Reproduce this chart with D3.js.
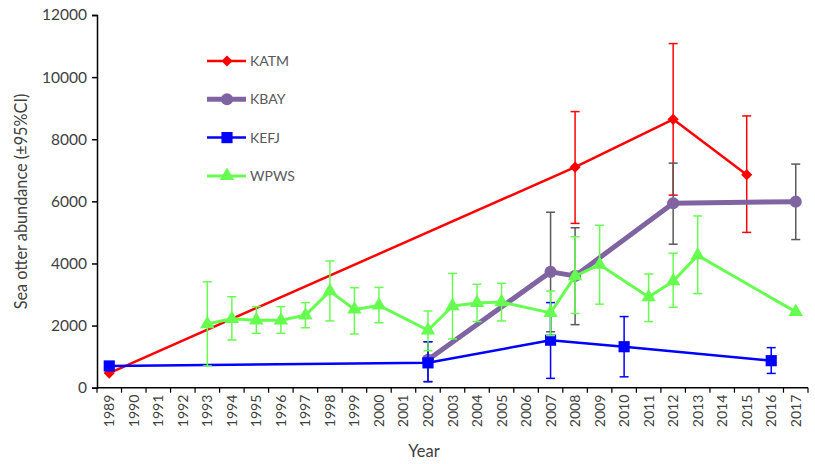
<!DOCTYPE html>
<html>
<head>
<meta charset="utf-8">
<script src="https://cdn.jsdelivr.net/npm/d3@7"></script>
<style>
  body { margin: 0; background: #fff; }
  text { font-family: Lato, "Open Sans", sans-serif; }
</style>
</head>
<body>
<div id="chart"></div>
<script>
// x categories
const years = d3.range(1989, 2018).map(String);
const yTicks = [0, 2000, 4000, 6000, 8000, 10000, 12000];

// KATM
const katmYears = ["1989", "2008", "2012", "2015"];
const katmValues = [470, 7100, 8640, 6860];
const katmLow = [null, 5290, 6200, 5000];
const katmHigh = [null, 8890, 11080, 8750];

// KBAY
const kbayYears = ["2002", "2007", "2008", "2012", "2017"];
const kbayValues = [900, 3730, 3600, 5940, 5990];
const kbayLow = [200, 1800, 2030, 4620, 4770];
const kbayHigh = [1480, 5650, 5150, 7230, 7200];

// KEFJ
const kefjYears = ["1989", "2002", "2007", "2010", "2016"];
const kefjValues = [700, 800, 1530, 1320, 870];
const kefjLow = [null, 190, 300, 350, 460];
const kefjHigh = [null, 1480, 2740, 2290, 1290];

// WPWS
const wpwsYears = ["1993", "1994", "1995", "1996", "1997", "1998", "1999", "2000", "2002", "2003", "2004", "2005", "2007", "2008", "2009", "2011", "2012", "2013", "2017"];
const wpwsValues = [2050, 2220, 2170, 2170, 2330, 3110, 2520, 2650, 1850, 2630, 2730, 2760, 2410, 3590, 3960, 2920, 3430, 4260, 2440];
const wpwsLow = [700, 1540, 1750, 1750, 1930, 2150, 1730, 2090, 1190, 1570, 2130, 2150, 1680, 2390, 2690, 2130, 2590, 3030, null];
const wpwsHigh = [3410, 2930, 2610, 2610, 2740, 4080, 3220, 3230, 2470, 3680, 3330, 3360, 3110, 4860, 5230, 3660, 4330, 5530, null];

const series = [
  { name: "KATM", years: katmYears, values: katmValues, low: katmLow, high: katmHigh,
    color: "#FF0000", errColor: "#FF0000", width: 2.5, symbol: d3.symbolSquare, size: 62, rot: 45 },
  { name: "KBAY", years: kbayYears, values: kbayValues, low: kbayLow, high: kbayHigh,
    color: "#8064A2", errColor: "#595959", width: 5, symbol: d3.symbolCircle, size: 115, rot: 0 },
  { name: "KEFJ", years: kefjYears, values: kefjValues, low: kefjLow, high: kefjHigh,
    color: "#0000FF", errColor: "#0000FF", width: 2.5, symbol: d3.symbolSquare, size: 125, rot: 0 },
  { name: "WPWS", years: wpwsYears, values: wpwsValues, low: wpwsLow, high: wpwsHigh,
    color: "#66FF4F", errColor: "#66FF4F", width: 3, symbol: d3.symbolTriangle, size: 90, rot: 0 }
];

const W = 815, H = 464;
const svg = d3.select("#chart").append("svg")
  .attr("width", W).attr("height", H);

const x = d3.scaleBand().domain(years).range([97, 808]).padding(0);
const y = d3.scaleLinear().domain([0, 12000]).range([387.7, 15]);
const cx = d => x(d) + x.bandwidth() / 2;

// y axis
const yAxis = svg.append("g")
  .attr("transform", "translate(97,0)")
  .call(d3.axisLeft(y).tickValues(yTicks).tickSize(5).tickPadding(5).tickFormat(d3.format("d")));
yAxis.select(".domain").attr("stroke", "#000").attr("stroke-width", 1.5);
yAxis.selectAll(".tick line").attr("stroke", "#000").attr("stroke-width", 1.5);
yAxis.selectAll(".tick text").attr("fill", "#404040").style("font-size", "15.5px");

// x axis, ticks between categories
const xAxis = svg.append("g").attr("transform", "translate(0,387.7)");
xAxis.append("line").attr("x1", 97).attr("x2", 808).attr("stroke", "#000").attr("stroke-width", 1.5);
xAxis.selectAll(".xt").data(years.concat(["end"])).join("line")
  .attr("x1", d => d === "end" ? 808 : x(d))
  .attr("x2", d => d === "end" ? 808 : x(d))
  .attr("y1", 0).attr("y2", 5).attr("stroke", "#000").attr("stroke-width", 1.2);
xAxis.selectAll(".xl").data(years).join("text")
  .attr("transform", d => `translate(${cx(d) + 5},${7}) rotate(-90)`)
  .attr("text-anchor", "end")
  .attr("fill", "#404040")
  .style("font-size", "14px")
  .text(d => d);

// axis titles
svg.append("text")
  .attr("transform", "translate(27,201.5) rotate(-90)")
  .attr("text-anchor", "middle")
  .attr("fill", "#404040")
  .style("font-size", "16.3px")
  .text("Sea otter abundance (±95%CI)");
svg.append("text")
  .attr("x", 424).attr("y", 457)
  .attr("text-anchor", "middle")
  .attr("fill", "#404040")
  .style("font-size", "16.5px")
  .text("Year");

// series
const line = d3.line().x(d => cx(d.year)).y(d => y(d.value));

series.forEach(s => {
  const pts = s.years.map((yr, i) => ({ year: yr, value: s.values[i], low: s.low[i], high: s.high[i] }));
  const g = svg.append("g");

  const eb = g.selectAll(".eb").data(pts.filter(d => d.low != null)).join("g")
    .attr("stroke", s.errColor).attr("stroke-width", 1.5);
  eb.append("line")
    .attr("x1", d => cx(d.year)).attr("x2", d => cx(d.year))
    .attr("y1", d => y(d.low)).attr("y2", d => y(d.high));
  eb.append("line")
    .attr("x1", d => cx(d.year) - 4.5).attr("x2", d => cx(d.year) + 4.5)
    .attr("y1", d => y(d.low)).attr("y2", d => y(d.low));
  eb.append("line")
    .attr("x1", d => cx(d.year) - 4.5).attr("x2", d => cx(d.year) + 4.5)
    .attr("y1", d => y(d.high)).attr("y2", d => y(d.high));

  g.append("path").datum(pts)
    .attr("fill", "none")
    .attr("stroke", s.color)
    .attr("stroke-width", s.width)
    .attr("stroke-linejoin", "round")
    .attr("d", line);

  g.selectAll(".m").data(pts).join("path")
    .attr("transform", d => `translate(${cx(d.year)},${y(d.value)}) rotate(${s.rot})`)
    .attr("d", d3.symbol().type(s.symbol).size(s.size))
    .attr("fill", s.color);
});

// legend
const legend = svg.append("g");
series.forEach((s, i) => {
  const ly = 61 + i * 38.3;
  legend.append("line")
    .attr("x1", 207).attr("x2", 246).attr("y1", ly).attr("y2", ly)
    .attr("stroke", s.color).attr("stroke-width", s.width);
  legend.append("path")
    .attr("transform", `translate(227,${ly}) rotate(${s.rot})`)
    .attr("d", d3.symbol().type(s.symbol).size(s.size))
    .attr("fill", s.color);
  legend.append("text")
    .attr("x", 250).attr("y", ly + 5)
    .attr("fill", "#595959")
    .style("font-size", "14px")
    .text(s.name);
});
</script>
</body>
</html>
